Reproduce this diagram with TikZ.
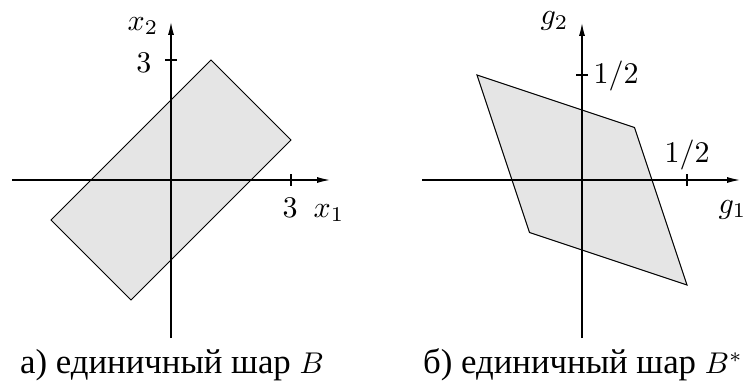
\documentclass[tikz,border=0pt]{standalone}
\usepackage{fontspec}
\newfontfamily\cyrfont{Liberation Serif}
\usetikzlibrary{arrows.meta}
\tikzset{
  axis/.style={line width=0.4pt,-{Latex[length=4.3pt,width=2pt]}},
  tick/.style={line width=0.4pt},
  ball/.style={fill=black!10,draw=black,line width=0.35pt,line join=miter},
  lbl/.style={inner sep=0pt,anchor=base},
  lblw/.style={inner sep=0pt,anchor=base west},
  caption/.style={inner sep=0pt,anchor=base,font=\cyrfont\fontsize{11.6}{13}\selectfont}
}
\begin{document}
\begin{tikzpicture}[x=0.3333pt,y=-0.3333pt]
\useasboundingbox (0,0) rectangle (750,385);
% ---------- left panel ----------
\coordinate (aW) at (12,180);
\coordinate (aE) at (330,180);
\coordinate (aS) at (171,338);
\coordinate (aN) at (171,22);
\coordinate (p1) at (211,60);
\coordinate (p2) at (291,140);
\coordinate (p3) at (131,300);
\coordinate (p4) at (51,220);
\draw[ball] (p1) -- (p2) -- (p3) -- (p4) -- cycle;
\draw[axis] (aW) -- (aE);
\draw[axis] (aS) -- (aN);
\coordinate (tx1a) at (291,174); \coordinate (tx1b) at (291,186);
\coordinate (ty1a) at (165,60);  \coordinate (ty1b) at (177,60);
\draw[tick] (tx1a) -- (tx1b);
\draw[tick] (ty1a) -- (ty1b);
\node[lbl] (lx3) at (290,217) {$3$};
\node[lbl] (lx1) at (329,217) {$x_1$};
\node[lbl] (ly3) at (144,72) {$3$};
\node[lbl] (lx2) at (143,30) {$x_2$};
\node[caption] (capA) at (172,373) {а) единичный шар {\fontsize{10}{12}\selectfont$B$}};
% ---------- right panel ----------
\coordinate (bW) at (422,180);
\coordinate (bE) at (740,180);
\coordinate (bS) at (582,338);
\coordinate (bN) at (582,23);
\coordinate (q1) at (477,75);
\coordinate (q2) at (634.5,127.5);
\coordinate (q3) at (687,285);
\coordinate (q4) at (529.5,232.5);
\draw[ball] (q1) -- (q2) -- (q3) -- (q4) -- cycle;
\draw[axis] (bW) -- (bE);
\draw[axis] (bS) -- (bN);
\coordinate (tg1a) at (687,174); \coordinate (tg1b) at (687,186);
\coordinate (tg2a) at (576,75);  \coordinate (tg2b) at (588,75);
\draw[tick] (tg1a) -- (tg1b);
\draw[tick] (tg2a) -- (tg2b);
\node[lbl] (lg1h) at (687,162) {$1/2$};
\node[lblw] (lg1) at (718,213) {$g_1$};
\node[lblw] (lg2h) at (593,83) {$1/2$};
\node[lblw] (lg2) at (540,25) {$g_2$};
\node[caption] (capB) at (583,373) {б) единичный шар {\fontsize{10}{12}\selectfont$B^*$}};
\end{tikzpicture}
\end{document}
